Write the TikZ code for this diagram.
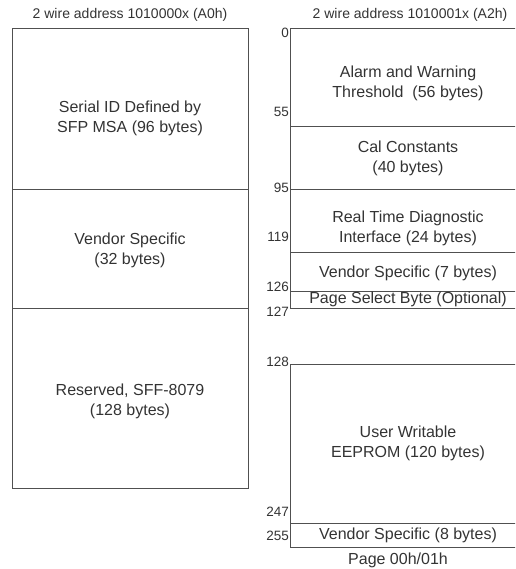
\documentclass[tikz,border=0pt]{standalone}
\usepackage{fontspec}
\setmainfont{Liberation Sans}
\begin{document}
\begin{tikzpicture}[x=1pt,y=-1pt,
  blk/.style={draw=linec,line width=1pt},
  txt/.style={text=txtc,font=\fontsize{16}{20}\selectfont,align=center,inner sep=0pt},
  hdr/.style={text=txtc,font=\fontsize{14}{17}\selectfont,inner sep=0pt},
  num/.style={text=txtc,font=\fontsize{13.5}{16}\selectfont,inner sep=0pt,anchor=east}]
\definecolor{linec}{HTML}{505050}
\definecolor{txtc}{HTML}{333333}
\useasboundingbox (0,0) rectangle (515,569);
\clip (0,0) rectangle (515,569);
% left column
\node[hdr] (hl) at (130,15) {2 wire address 1010000x (A0h)};
\draw[blk] (12,29) rectangle (248,488);
\draw[blk] (12,190) -- (248,190);
\draw[blk] (12,308) -- (248,308);
\node[txt] (l1) at (130,118) {Serial ID Defined by\\SFP MSA (96 bytes)};
\node[txt] (l2) at (130,250) {Vendor Specific\\(32 bytes)};
\node[txt] (l3) at (130,401) {Reserved, SFF-8079\\(128 bytes)};
% right column
\node[hdr] (hr) at (410,15) {2 wire address 1010001x (A2h)};
\draw[blk] (290,29) rectangle (526,308);
\draw[blk] (290,127) -- (526,127);
\draw[blk] (290,190) -- (526,190);
\draw[blk] (290,252) -- (526,252);
\draw[blk] (290,291) -- (526,291);
\draw[blk] (290,364) rectangle (526,547);
\draw[blk] (290,523) -- (526,523);
\node[txt] (r1) at (408,83) {Alarm and Warning\\Threshold\ \ (56 bytes)};
\node[txt] (r2) at (408,158) {Cal Constants\\(40 bytes)};
\node[txt] (r3) at (408,228) {Real Time Diagnostic\\Interface (24 bytes)};
\node[txt] (r4) at (408,273) {Vendor Specific (7 bytes)};
\node[txt] (r5) at (408,299) {Page Select Byte (Optional)};
\node[txt] (r6) at (408,443) {User Writable\\EEPROM (120 bytes)};
\node[txt] (r7) at (408,535) {Vendor Specific (8 bytes)};
\node[txt] (pg) at (398,560) {Page 00h/01h};
% numbers
\node[num] (n0) at (289,33) {0};
\node[num] (n55) at (289,112) {55};
\node[num] (n95) at (289,188) {95};
\node[num] (n119) at (289,237) {119};
\node[num] (n126) at (289,287) {126};
\node[num] (n127) at (289,312) {127};
\node[num] (n128) at (289,362) {128};
\node[num] (n247) at (289,512) {247};
\node[num] (n255) at (289,536) {255};
\end{tikzpicture}
\end{document}
